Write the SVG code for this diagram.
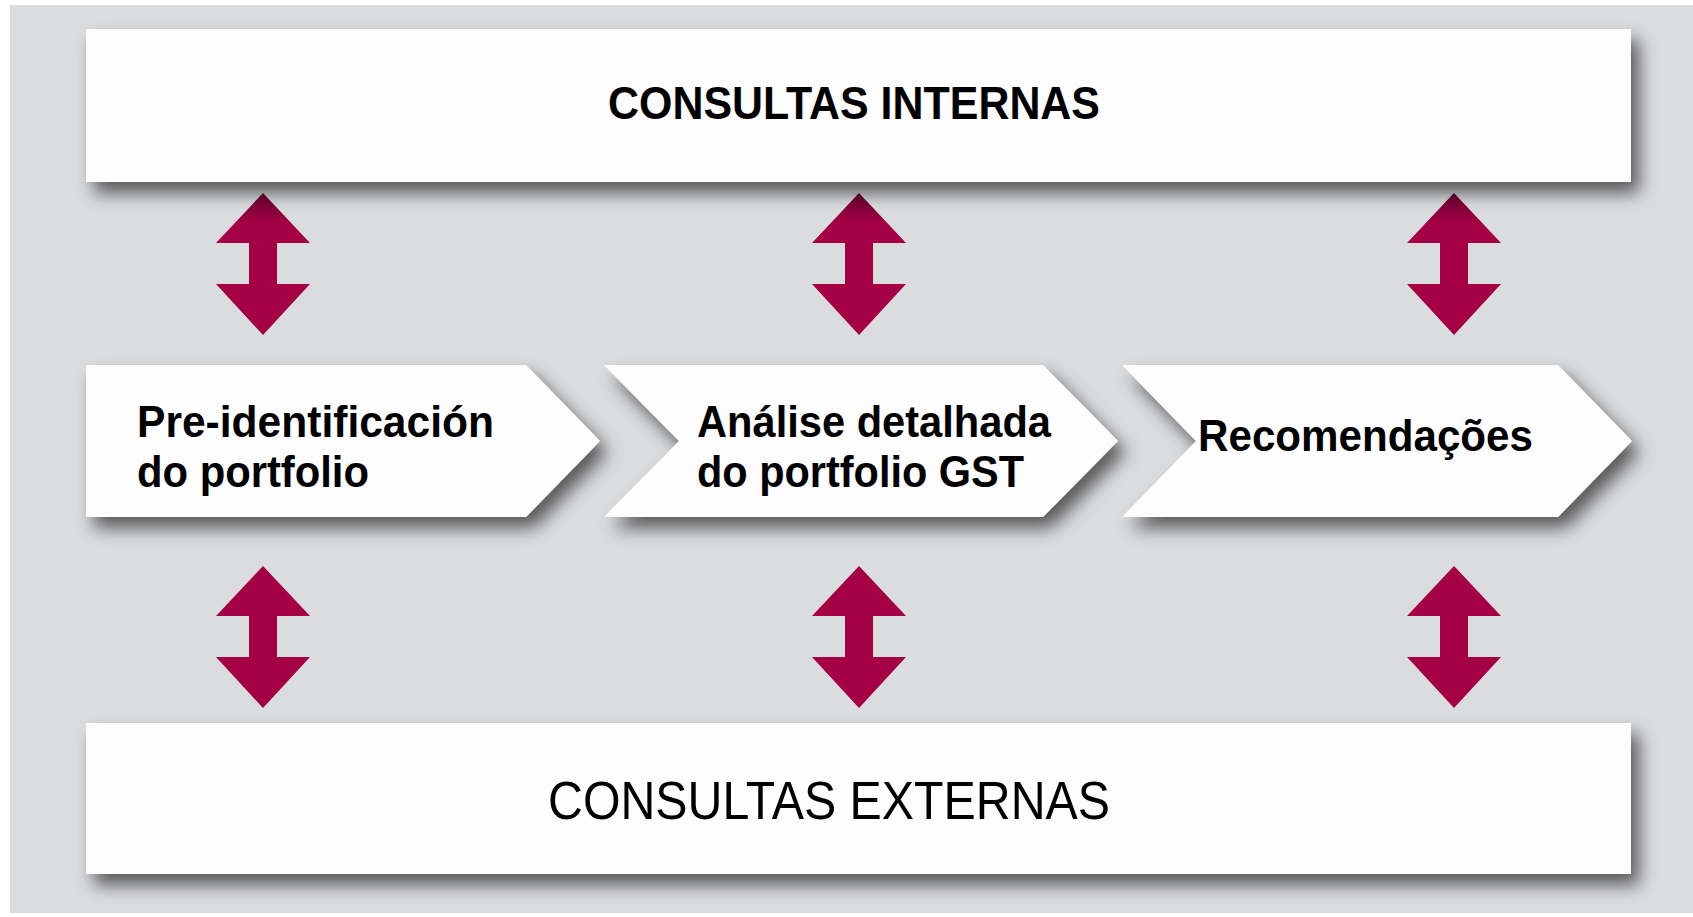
<svg xmlns="http://www.w3.org/2000/svg" width="1693" height="917" viewBox="0 0 1693 917">
  <defs>
    <filter id="sh" x="-10%" y="-40%" width="125%" height="190%">
      <feDropShadow dx="8" dy="11" stdDeviation="9" flood-color="#000" flood-opacity="0.6"/>
    </filter>
    <linearGradient id="topArrow" x1="0" y1="0" x2="0" y2="1">
      <stop offset="0" stop-color="#6a0030"/>
      <stop offset="0.22" stop-color="#a50044"/>
      <stop offset="1" stop-color="#a50044"/>
    </linearGradient>
    <path id="dbl" d="M0,0 L47,50 L14,50 L14,91 L47,91 L0,142 L-47,91 L-14,91 L-14,50 L-47,50 Z"/>
  </defs>
  <style>
    .box { fill: #fdfdfd; filter: url(#sh); }
    .bold { font-family: "Liberation Sans", Arial, sans-serif; font-weight: bold; fill: #000; }
    .reg { font-family: "Liberation Sans", Arial, sans-serif; font-weight: normal; fill: #000; }
    .arr { fill: #a50044; }
    .arrTop { fill: url(#topArrow); }
  </style>
  <rect x="0" y="0" width="1693" height="917" fill="#ffffff"/>
  <rect x="10" y="5" width="1683" height="908" fill="#dbdcde"/>

  <g id="connectors">
    <use href="#dbl" class="arrTop" x="263" y="193"/>
    <use href="#dbl" class="arrTop" x="859" y="193"/>
    <use href="#dbl" class="arrTop" x="1454" y="193"/>
    <use href="#dbl" class="arr" x="263" y="566"/>
    <use href="#dbl" class="arr" x="859" y="566"/>
    <use href="#dbl" class="arr" x="1454" y="566"/>
  </g>

  <g id="consultas-internas">
    <rect class="box" x="86" y="29" width="1545" height="153"/>
    <text class="bold" x="608" y="119" font-size="46" textLength="492" lengthAdjust="spacingAndGlyphs">CONSULTAS INTERNAS</text>
  </g>

  <g id="pre-identificacion">
    <path class="box" d="M86,365 L526,365 L600,441 L526,517 L86,517 Z"/>
    <text class="bold" x="137" y="437" font-size="45" textLength="357" lengthAdjust="spacingAndGlyphs">Pre-identificación</text>
    <text class="bold" x="137" y="487" font-size="45" textLength="232" lengthAdjust="spacingAndGlyphs">do portfolio</text>
  </g>

  <g id="analise-detalhada">
    <path class="box" d="M604,365 L1043,365 L1118,441 L1043,517 L604,517 L679,441 Z"/>
    <text class="bold" x="697" y="437" font-size="45" textLength="354" lengthAdjust="spacingAndGlyphs">Análise detalhada</text>
    <text class="bold" x="697" y="487" font-size="45" textLength="327" lengthAdjust="spacingAndGlyphs">do portfolio GST</text>
  </g>

  <g id="recomendacoes">
    <path class="box" d="M1122,365 L1558,365 L1632,441 L1558,517 L1122,517 L1196,441 Z"/>
    <text class="bold" x="1198" y="451" font-size="45" textLength="335" lengthAdjust="spacingAndGlyphs">Recomendações</text>
  </g>

  <g id="consultas-externas">
    <rect class="box" x="86" y="723" width="1545" height="151"/>
    <text class="reg" x="548" y="819" font-size="53" textLength="562" lengthAdjust="spacingAndGlyphs">CONSULTAS EXTERNAS</text>
  </g>
</svg>
